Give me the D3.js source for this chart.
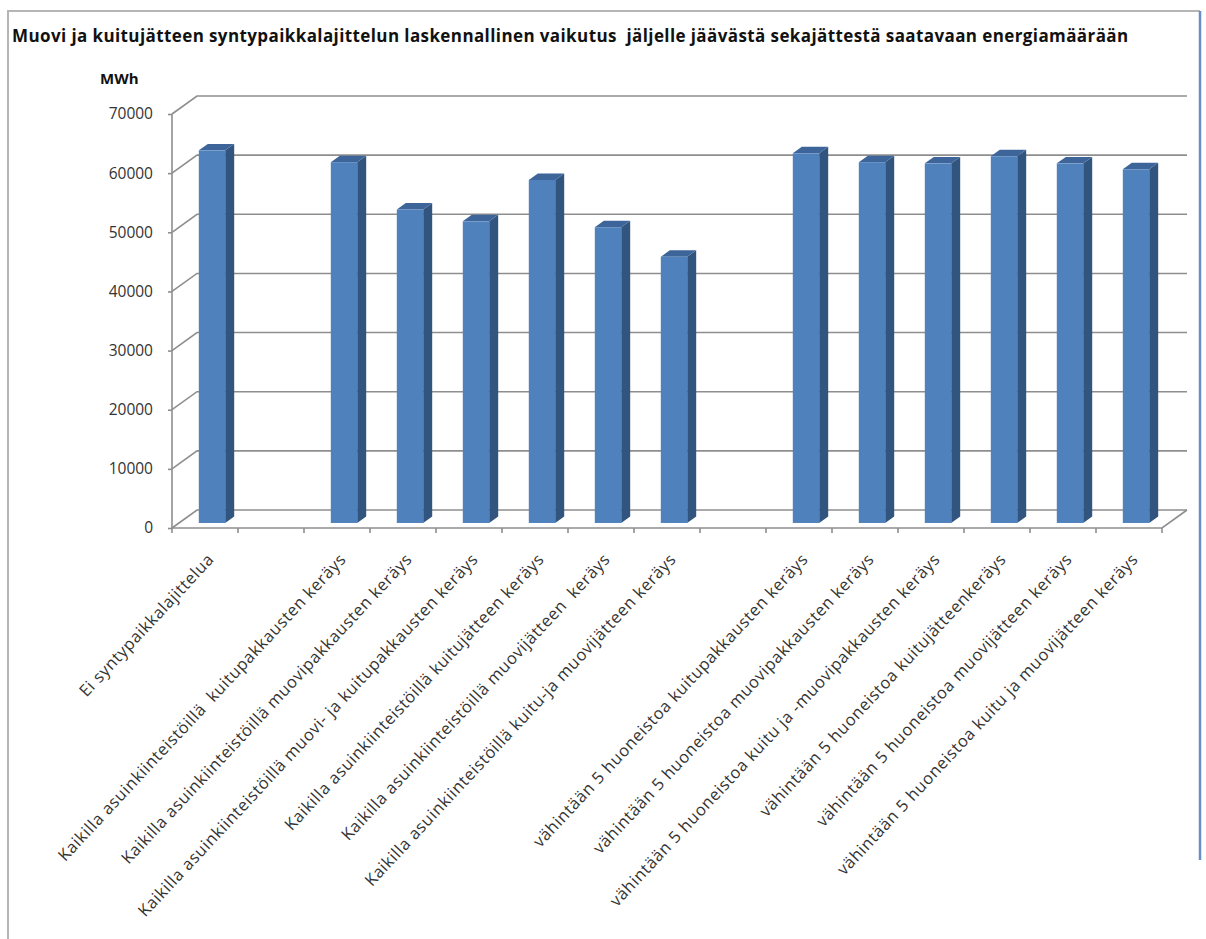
<!DOCTYPE html>
<html>
<head>
<meta charset="utf-8">
<script src="https://cdn.jsdelivr.net/npm/d3@7"></script>
<style>
  body { margin: 0; background: #fff; }
  text { font-family: "Open Sans", sans-serif; white-space: pre; }
</style>
</head>
<body>
<div id="visual"></div>
<script>
// data (empty names are the spacer slots)
const categories = [
  "Ei syntypaikkalajittelua",
  "",
  "Kaikilla asuinkiinteistöillä  kuitupakkausten keräys",
  "Kaikilla asuinkiinteistöillä muovipakkausten keräys",
  "Kaikilla asuinkiinteistöillä muovi- ja kuitupakkausten keräys",
  "Kaikilla asuinkiinteistöillä kuitujätteen keräys",
  "Kaikilla asuinkiinteistöillä muovijätteen  keräys",
  "Kaikilla asuinkiinteistöillä kuitu-ja muovijätteen keräys",
  " ",
  "vähintään 5 huoneistoa kuitupakkausten keräys",
  "vähintään 5 huoneistoa muovipakkausten keräys",
  "vähintään 5 huoneistoa kuitu ja -muovipakkausten keräys",
  "vähintään 5 huoneistoa kuitujätteenkeräys",
  "vähintään 5 huoneistoa muovijätteen keräys",
  "vähintään 5 huoneistoa kuitu ja muovijätteen keräys"
];
const values = [63000, null, 61000, 53000, 51000, 58000, 50000, 45000, null, 62500, 61000, 60800, 62000, 60800, 59800];
const yTicks = [0, 10000, 20000, 30000, 40000, 50000, 60000, 70000];
const titleText = "Muovi ja kuitujätteen syntypaikkalajittelun laskennallinen vaikutus  jäljelle jäävästä sekajättestä saatavaan energiamäärään";
const unitText = "MWh";

const width = 1206, height = 939;
const depth = {x: 25, y: -18};     // back wall offset
const barFront = 0.28, barBack = 0.64; // bar position inside the depth

const svg = d3.select("#visual")
  .append("svg")
  .attr("width", width)
  .attr("height", height);

// frame of the picture
svg.append("path")
  .attr("d", "M8," + height + " L8,11 L1200,11")
  .attr("fill", "none")
  .attr("stroke", "#b5b5b5")
  .attr("stroke-width", 2);
svg.append("line")
  .attr("x1", 1200).attr("x2", 1200)
  .attr("y1", 11).attr("y2", 860)
  .attr("stroke", "#6a8cc8")
  .attr("stroke-width", 2.5);

svg.append("text")
  .attr("x", 12)
  .attr("y", 42)
  .attr("font-weight", "bold")
  .attr("font-size", "17px")
  .attr("letter-spacing", "0.4px")
  .attr("fill", "#111")
  .text(titleText);

svg.append("text")
  .attr("x", 100)
  .attr("y", 84)
  .attr("font-weight", "bold")
  .attr("font-size", "15px")
  .attr("fill", "#111")
  .text(unitText);

// scales (front plane)
const x = d3.scaleBand()
  .domain(d3.range(categories.length))
  .range([172, 1162])
  .padding(0);
const y = d3.scaleLinear()
  .domain([0, 70000])
  .range([528, 114]);

const grid = svg.append("g")
  .attr("fill", "none")
  .attr("stroke", "#8e8e8e")
  .attr("stroke-width", 1.6);

const x0 = x.range()[0], x1 = x.range()[1];

// back wall gridlines and side wall diagonals
yTicks.forEach(t => {
  grid.append("path")
    .attr("d", "M" + x0 + "," + y(t) + " L" + (x0 + depth.x) + "," + (y(t) + depth.y) +
               " L" + (x1 + depth.x) + "," + (y(t) + depth.y));
});
// floor edges
grid.append("path")
  .attr("d", "M" + x0 + "," + y(0) + " L" + x1 + "," + y(0) + " L" + (x1 + depth.x) + "," + (y(0) + depth.y));
// left axis line
grid.append("line")
  .attr("x1", x0).attr("x2", x0)
  .attr("y1", y(0)).attr("y2", y(70000));

// y axis labels and ticks
const yAxis = svg.append("g")
  .attr("transform", "translate(" + x0 + ",0)")
  .call(d3.axisLeft(y).tickValues(yTicks).tickSize(4).tickPadding(15).tickFormat(d3.format("d")));
yAxis.select(".domain").remove();
yAxis.selectAll(".tick line").attr("stroke", "#8e8e8e").attr("stroke-width", 1.6);
yAxis.selectAll(".tick text")
  .attr("font-family", "Open Sans")
  .attr("font-size", "15.5px")
  .attr("fill", "#333");

// category ticks on the floor front edge
svg.append("g")
  .selectAll("line")
  .data(d3.range(categories.length + 1))
  .join("line")
  .attr("x1", i => i < categories.length ? x(i) : x1)
  .attr("x2", i => i < categories.length ? x(i) : x1)
  .attr("y1", y(0))
  .attr("y2", y(0) + 5)
  .attr("stroke", "#8e8e8e")
  .attr("stroke-width", 1.6);

// bars
const barW = x.bandwidth() * 0.4;
const bars = svg.append("g")
  .selectAll("g")
  .data(values.map((v, i) => ({v: v, i: i})).filter(d => d.v !== null))
  .join("g");

const fx = d => x(d.i) + (x.bandwidth() - barW) / 2 + depth.x * barFront;
const fy = v => y(v) + depth.y * barFront;
const dX = depth.x * (barBack - barFront), dY = depth.y * (barBack - barFront);

// side face
bars.append("path")
  .attr("d", d => {
    const l = fx(d) + barW, t = fy(d.v), b = fy(0);
    return "M" + l + "," + b + " L" + l + "," + t + " L" + (l + dX) + "," + (t + dY) +
           " L" + (l + dX) + "," + (b + dY) + "Z";
  })
  .attr("fill", "#32557f");
// top face
bars.append("path")
  .attr("d", d => {
    const l = fx(d), t = fy(d.v);
    return "M" + l + "," + t + " L" + (l + barW) + "," + t + " L" + (l + barW + dX) + "," + (t + dY) +
           " L" + (l + dX) + "," + (t + dY) + "Z";
  })
  .attr("fill", "#3d659a");
// front face
bars.append("rect")
  .attr("x", d => fx(d))
  .attr("y", d => fy(d.v))
  .attr("width", barW)
  .attr("height", d => fy(0) - fy(d.v))
  .attr("fill", "#4f81bd");

// category labels, rotated
svg.append("g")
  .selectAll("text")
  .data(categories)
  .join("text")
  .attr("transform", (d, i) => "translate(" + (x(i) + x.bandwidth() / 2 + 10) + ",560) rotate(-47)")
  .attr("text-anchor", "end")
  .attr("font-size", "16.5px")
  .attr("letter-spacing", "0.6px")
  .attr("fill", "#333")
  .text(d => d.trim());
</script>
</body>
</html>
